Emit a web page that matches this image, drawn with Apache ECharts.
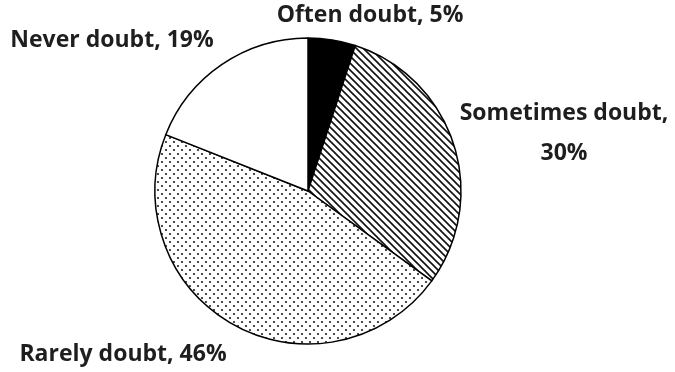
<!DOCTYPE html>
<html><head><meta charset="utf-8">
<script src="https://cdn.jsdelivr.net/npm/echarts@6/dist/echarts.min.js"></script>
<style>html,body{margin:0;padding:0;background:#fff}#c{width:675px;height:372px}</style>
</head><body><div id="c"></div>
<script>
const categories = ['Often doubt', 'Sometimes doubt', 'Rarely doubt', 'Never doubt'];
const values = [5, 30, 46, 19];
const labelTexts = ['Often doubt, 5%', 'Sometimes doubt,\n30%', 'Rarely doubt, 46%', 'Never doubt, 19%'];

function hatch() {
  const s = 7, c = document.createElement('canvas');
  c.width = s; c.height = s;
  const g = c.getContext('2d');
  g.fillStyle = '#fff'; g.fillRect(0, 0, s, s);
  g.strokeStyle = '#111'; g.lineWidth = 1.6;
  g.beginPath();
  g.moveTo(-1, -1); g.lineTo(s + 1, s + 1);
  g.moveTo(-1, s - 1); g.lineTo(1, s + 1);
  g.moveTo(s - 1, -1); g.lineTo(s + 1, 1);
  g.stroke();
  return c;
}
function dots() {
  const s = 8, c = document.createElement('canvas');
  c.width = s; c.height = s;
  const g = c.getContext('2d');
  g.fillStyle = '#fff'; g.fillRect(0, 0, s, s);
  g.fillStyle = '#222';
  [[2, 2], [6, 6]].forEach(p => { g.beginPath(); g.arc(p[0], p[1], 1.1, 0, Math.PI * 2); g.fill(); });
  return c;
}
const fills = ['#000', { image: hatch(), repeat: 'repeat' }, { image: dots(), repeat: 'repeat' }, '#fff'];
const labelPos = [
  { x: 370, y: 15 },
  { x: 564, y: 133 },
  { x: 123, y: 354 },
  { x: 112, y: 40 }
];

const chart = echarts.init(document.getElementById('c'), null, { renderer: 'canvas' });
chart.setOption({
  animation: false,
  series: [{
    type: 'pie',
    center: [308, 191],
    radius: 153,
    startAngle: 90,
    clockwise: true,
    data: categories.map((n, i) => ({ name: n, value: values[i], itemStyle: { color: fills[i] } })),
    itemStyle: { borderColor: '#000', borderWidth: 1.5 },
    emphasis: { disabled: true },
    label: {
      show: true,
      formatter: p => labelTexts[p.dataIndex],
      fontFamily: 'Open Sans',
      fontWeight: 'bold',
      fontSize: 23,
      lineHeight: 40,
      overflow: 'none',
      color: '#1e1e1e'
    },
    labelLine: { show: false },
    labelLayout: p => ({ x: labelPos[p.dataIndex].x, y: labelPos[p.dataIndex].y, align: 'center', verticalAlign: 'middle' })
  }]
});
</script></body></html>
